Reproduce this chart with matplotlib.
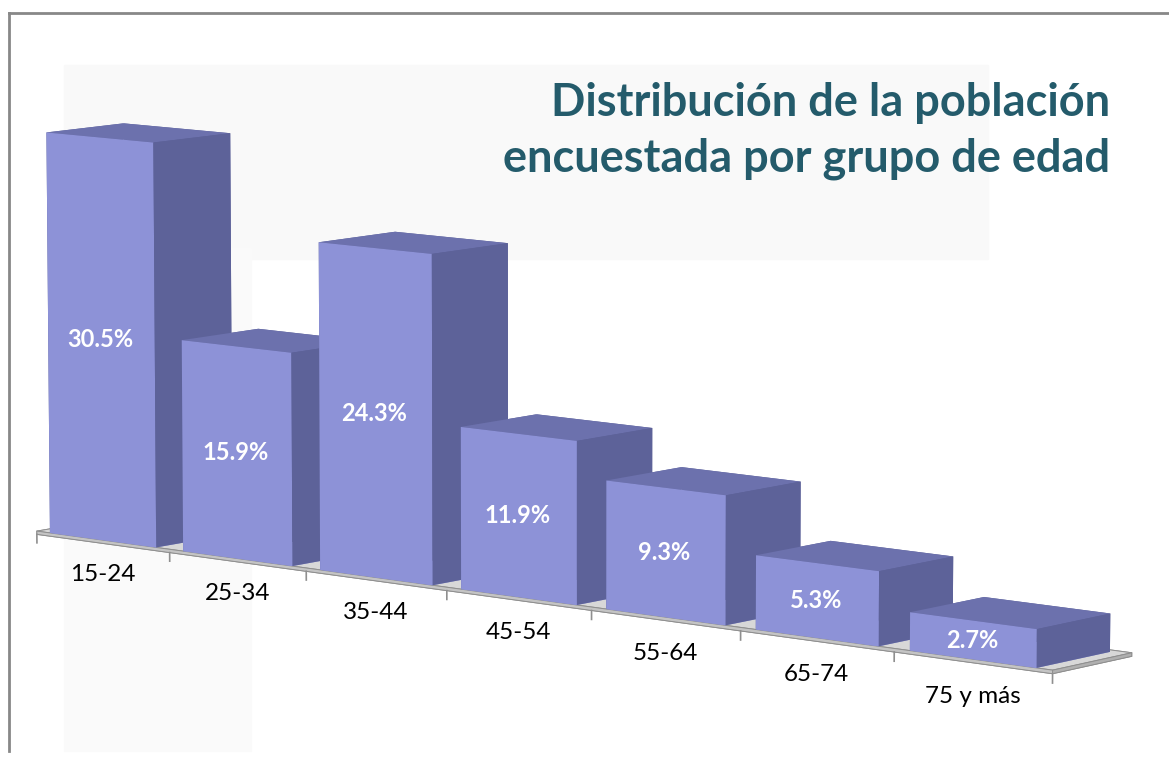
import numpy as np
import matplotlib
matplotlib.use('Agg')
import matplotlib.pyplot as plt
from matplotlib.lines import Line2D

plt.rcParams['font.family'] = ['Lato', 'DejaVu Sans']

groups = ['15-24', '25-34', '35-44', '45-54', '55-64', '65-74', '75 y más']
shares = [30.5, 15.9, 24.3, 11.9, 9.3, 5.3, 2.7]
title = 'Distribución de la población\nencuestada por grupo de edad'

front_col = '#8d92d7'
side_col = '#5d6299'
top_col = '#6c71ad'
floor_top = '#d8d8d8'
floor_edge = '#8f8f8f'

fig = plt.figure(figsize=(11.69, 7.62), dpi=100)
fig.patch.set_facecolor('white')

# faint panels behind the chart, like the original slide
fig.patches.append(plt.Rectangle((0.055, 0.66), 0.79, 0.255, transform=fig.transFigure,
                                 color='#f9f9f9', zorder=-5))
fig.patches.append(plt.Rectangle((0.055, 0.015), 0.16, 0.66, transform=fig.transFigure,
                                 color='#fafafa', zorder=-5))
# frame lines (left and top)
fig.add_artist(Line2D([0.008, 0.008], [0.015, 0.983], transform=fig.transFigure,
                      color='#888888', lw=2))
fig.add_artist(Line2D([0.008, 1.0], [0.983, 0.983], transform=fig.transFigure,
                      color='#888888', lw=2))

ax = fig.add_axes([-0.026, -0.044, 1.0, 1.0], projection='3d')
ax.set_zorder(1)
ax.computed_zorder = False
ax.set_proj_type('persp', focal_length=2.0)
ax.view_init(elev=8, azim=-50)
ax.set_xticks([])
ax.set_yticks([])
ax.set_zticks([])
ax.set_axis_off()
ax.patch.set_alpha(0)

n = len(groups)
x = np.arange(n)
bar_w = 0.8
depth = 0.62
zscale = 0.073  # units per percent

ax.set_xlim(-0.6, n - 0.4)
ax.set_ylim(0, 0.75)
ax.set_zlim(-4, 31)
ax.set_box_aspect((n + 0.2, 0.75, 35 * zscale), zoom=1.85)

# floor slab, drawn first
ax.bar3d(-0.5, 0, -0.25, n, depth + 0.05, 0.25, color=[floor_edge, floor_top, '#c4c4c4',
         floor_edge, floor_edge, '#b0b0b0'], shade=False, edgecolor=floor_edge,
         linewidth=0.7, zorder=1)

# ticks under the floor front edge
for k in range(n + 1):
    ax.plot([k - 0.5, k - 0.5], [0, 0], [-0.25, -0.9], color=floor_edge, lw=1.2, zorder=1)

# bars, back (left) to front (right)
for i, v in enumerate(shares):
    ax.bar3d(x[i] - bar_w / 2, 0.0, 0.0, bar_w, depth, v,
             color=[front_col, top_col, front_col, side_col, side_col, side_col],
             shade=False, linewidth=0, zorder=2 + i)

for i, v in enumerate(shares):
    ax.text(x[i], -0.01, v / 2, '{:.1f}%'.format(v), color='white', fontsize=17,
            fontweight='bold', ha='center', va='center', zorder=20)
    ax.text(x[i], 0, -2.6, groups[i], color='black', fontsize=17.5,
            ha='center', va='center', zorder=20)

# the 3d axes is squared internally, so do not clip to its box
for art in ax.collections + ax.lines + ax.texts:
    art.set_clip_on(False)

fig.text(0.95, 0.893, title, color='#245b6b', fontsize=32.5, fontweight='bold',
         ha='right', va='top', linespacing=1.4)

fig.savefig('out.png', dpi=100)
